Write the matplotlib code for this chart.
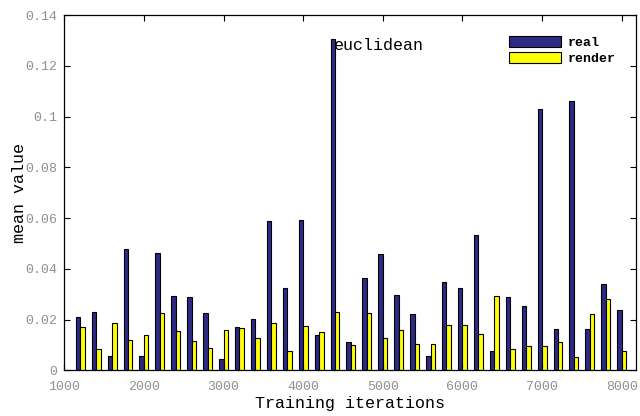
import matplotlib
matplotlib.use("Agg")
import matplotlib.pyplot as plt
import numpy as np

iterations = list(range(1200, 8001, 200))
real = [0.0210, 0.0230, 0.0055, 0.0479, 0.0055, 0.0463, 0.0293, 0.0287, 0.0224, 0.0043,
        0.0171, 0.0204, 0.0588, 0.0325, 0.0592, 0.0139, 0.1306, 0.0112, 0.0364, 0.0458,
        0.0295, 0.0221, 0.0055, 0.0348, 0.0325, 0.0535, 0.0076, 0.0287, 0.0254, 0.1030,
        0.0164, 0.1062, 0.0164, 0.0339, 0.0239]
render = [0.0171, 0.0082, 0.0187, 0.0121, 0.0141, 0.0226, 0.0154, 0.0116, 0.0087, 0.0158,
          0.0167, 0.0129, 0.0187, 0.0075, 0.0174, 0.0149, 0.0229, 0.0101, 0.0224, 0.0129,
          0.0158, 0.0105, 0.0105, 0.0178, 0.0178, 0.0145, 0.0292, 0.0082, 0.0096, 0.0096,
          0.0112, 0.0054, 0.0221, 0.0280, 0.0076]
xticks = [1000, 2000, 3000, 4000, 5000, 6000, 7000, 8000]
yticks = [0, 0.02, 0.04, 0.06, 0.08, 0.1, 0.12, 0.14]
ytick_labels = ["0", "0.02", "0.04", "0.06", "0.08", "0.1", "0.12", "0.14"]

fig = plt.figure(figsize=(6.4, 4.16), dpi=100)
ax = fig.add_axes([64.3/640, 1 - 370.3/416, (636 - 64.3)/640, (370.3 - 15)/416])

x = np.array(iterations)
w = 56
ax.bar(x - w/2, real, width=w, color="#2c2a86", edgecolor="black", linewidth=0.8, label="real")
ax.bar(x + w/2, render, width=w, color="#ffff00", edgecolor="black", linewidth=0.8, label="render")

ax.set_xlim(1000, 8180)
ax.set_ylim(0, 0.14)
ax.set_xticks(xticks)
ax.set_xticklabels([str(t) for t in xticks])
ax.set_yticks(yticks)
ax.set_yticklabels(ytick_labels)
ax.tick_params(direction="in", top=True, right=True, length=4, width=0.8,
               labelsize=9.5, labelcolor="#909090")
ax.tick_params(axis="x", pad=8)
ax.tick_params(axis="y", pad=5)
for lbl in ax.get_xticklabels() + ax.get_yticklabels():
    lbl.set_family("Liberation Mono")
for s in ax.spines.values():
    s.set_linewidth(0.9)

ax.set_xlabel("Training iterations", family="Liberation Mono", fontsize=12, labelpad=2)
ax.set_ylabel("mean value", family="Liberation Mono", fontsize=12, labelpad=-1.5)

ax.text(4385, 0.128, "euclidean", family="Liberation Mono", fontsize=12, va="center", ha="left")

leg = ax.legend(loc="upper right", bbox_to_anchor=(0.985, 0.975), frameon=False,
                prop={"family": "Liberation Mono", "size": 9.5, "weight": "bold"},
                handlelength=3.9, handleheight=0.9, handletextpad=0.5, labelspacing=0.25)

fig.savefig("out.png", dpi=100)
